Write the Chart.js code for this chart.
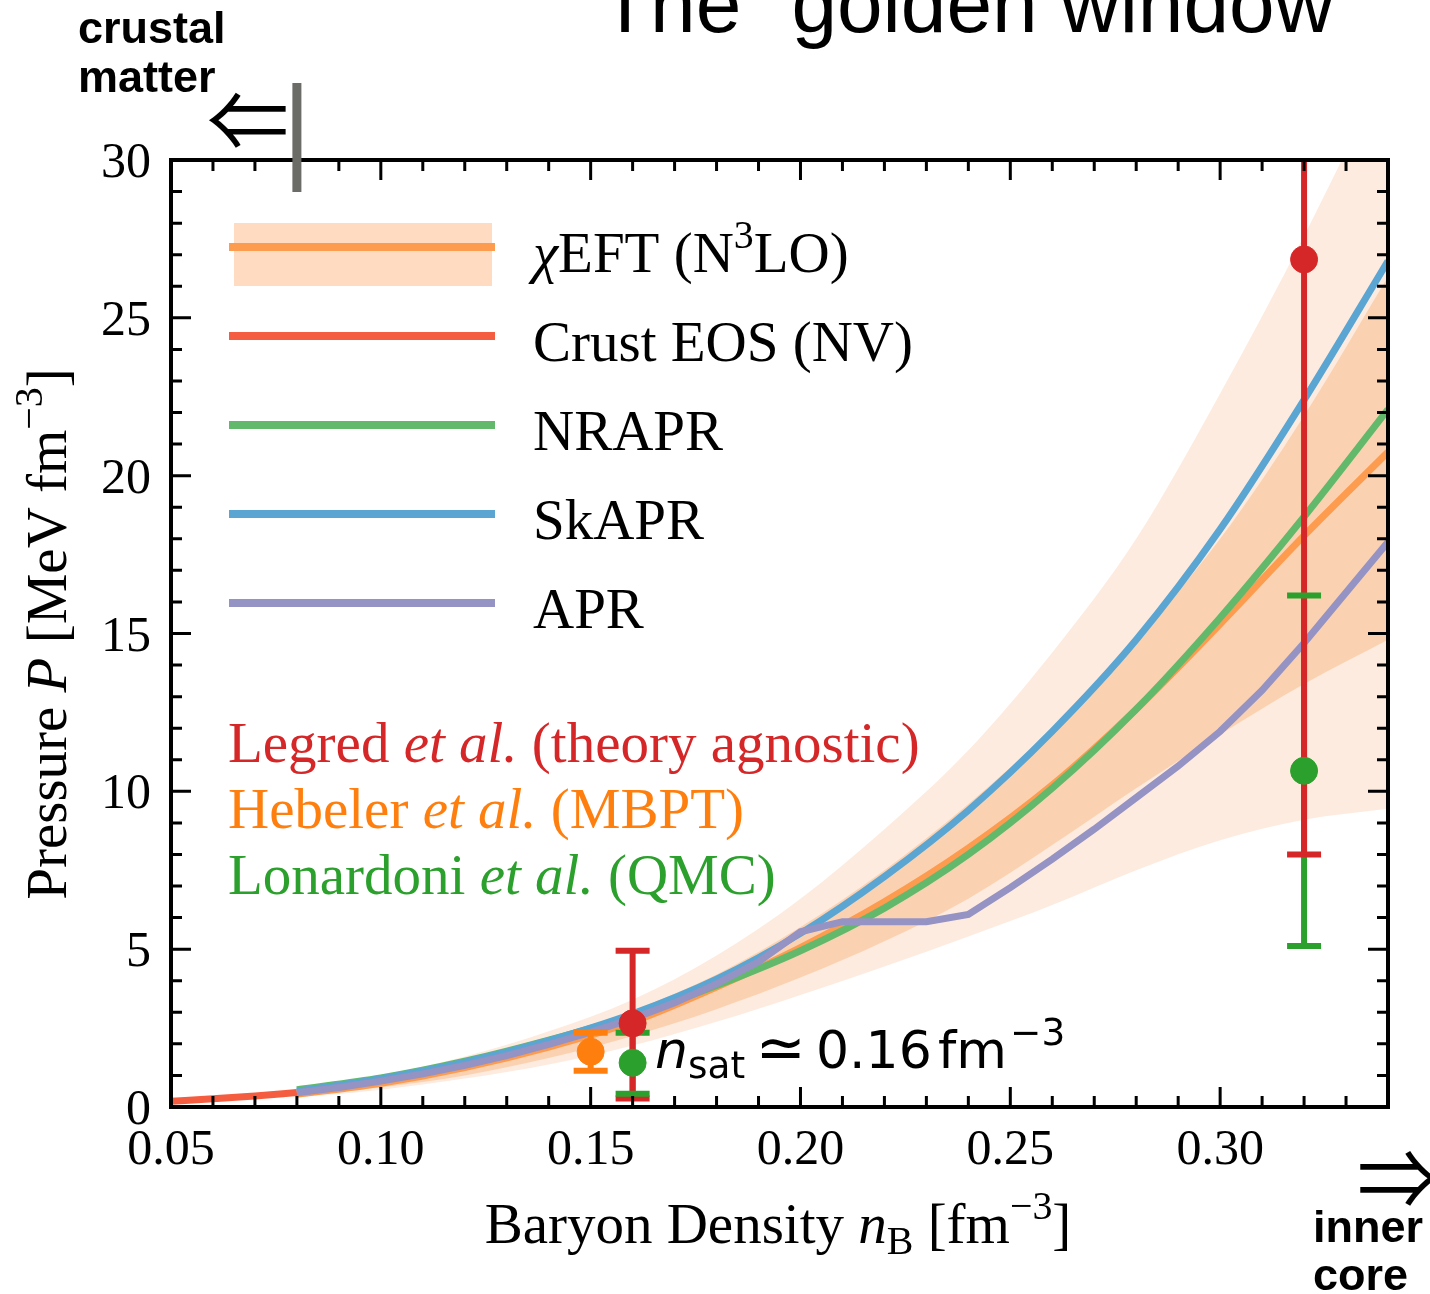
<!DOCTYPE html>
<html lang="en">
<head>
<meta charset="utf-8">
<title>Pressure of neutron-star matter: the golden window</title>
<script src="https://cdn.jsdelivr.net/npm/chart.js@4.4.1/dist/chart.umd.min.js"></script>
<style>
  html, body { margin: 0; padding: 0; background: #ffffff; }
  canvas { display: block; }
</style>
</head>
<body>
<canvas id="eos" width="1430" height="1294"></canvas>
<script>
// ---------------- data (baryon density in fm^-3, pressure in MeV fm^-3) ----------------
const densityGrid      = [0.08, 0.10, 0.12, 0.14, 0.16, 0.18, 0.20, 0.22, 0.24, 0.26, 0.28, 0.30, 0.32, 0.34];
const chiEftPressure   = [0.40, 0.75, 1.25, 1.90, 2.70, 3.80, 5.05, 6.50, 8.20, 10.20, 12.60, 15.30, 18.10, 20.75];
const chiEftInnerLow   = [0.35, 0.62, 1.00, 1.55, 2.25, 3.10, 4.10, 5.25, 6.60, 8.30, 10.10, 11.80, 13.40, 14.80];
const chiEftInnerHigh  = [0.50, 0.90, 1.45, 2.15, 3.05, 4.20, 5.70, 7.50, 9.60, 12.00, 14.80, 18.00, 21.90, 26.30];
const chiEftOuterLow   = [0.30, 0.55, 0.90, 1.35, 1.95, 2.70, 3.55, 4.45, 5.40, 6.40, 7.50, 8.45, 9.10, 9.45];
const chiEftOuterHigh  = [0.55, 1.00, 1.60, 2.40, 3.40, 4.80, 6.60, 8.80, 11.30, 14.40, 18.00, 22.60, 27.60, 33.00];
const nraprPressure    = [0.55, 0.92, 1.45, 2.12, 2.90, 3.85, 4.95, 6.30, 8.00, 10.10, 12.60, 15.50, 18.70, 22.10];
const skaprPressure    = [0.50, 0.90, 1.42, 2.10, 2.95, 4.05, 5.50, 7.30, 9.40, 11.90, 14.80, 18.30, 22.40, 26.80];

const aprDensity  = [0.08, 0.09, 0.10, 0.11, 0.12, 0.13, 0.14, 0.15, 0.16, 0.17, 0.18, 0.19, 0.20, 0.21,
                     0.22, 0.23, 0.24, 0.25, 0.26, 0.27, 0.28, 0.29, 0.30, 0.31, 0.32, 0.33, 0.34];
const aprPressure = [0.45, 0.62, 0.82, 1.05, 1.32, 1.63, 1.98, 2.37, 2.80, 3.30, 3.90, 4.60, 5.55, 5.87,
                     5.87, 5.87, 6.10, 6.95, 7.85, 8.80, 9.80, 10.80, 11.90, 13.20, 14.70, 16.30, 17.90];

const crustDensity  = [0.05, 0.06, 0.07, 0.08];
const crustPressure = [0.18, 0.26, 0.35, 0.46];

// error-bar constraints: central value with lower / upper limits
const legredDensity     = [0.16, 0.32];
const legredPressure    = [2.65, 26.85];
const legredLow         = [0.27, 8.00];
const legredHigh        = [4.95, 34.00];

const hebelerDensity    = [0.15];
const hebelerPressure   = [1.75];
const hebelerLow        = [1.15];
const hebelerHigh       = [2.35];

const lonardoniDensity  = [0.16, 0.32];
const lonardoniPressure = [1.40, 10.65];
const lonardoniLow      = [0.42, 5.10];
const lonardoniHigh     = [2.35, 16.20];

const crustCoreTransition = 0.08;   // marked above the frame

// axis ticks
const xMajorTicks = [0.05, 0.10, 0.15, 0.20, 0.25, 0.30];
const xTickLabels = ['0.05', '0.10', '0.15', '0.20', '0.25', '0.30'];
const yMajorTicks = [0, 5, 10, 15, 20, 25, 30];
const yTickLabels = ['0', '5', '10', '15', '20', '25', '30'];

// ---------------- styling ----------------
const SERIF = '"Liberation Serif", "Times New Roman", serif';
const SANS  = '"Liberation Sans", Arial, sans-serif';
const MATHSANS = '"DejaVu Sans", sans-serif';
const ARROWS = '"Noto Sans CJK JP", "DejaVu Sans", sans-serif';

const colors = {
  band:      '#feebdf',
  bandInner: '#fbd2b1',
  bandKey:   '#fedbc1',
  chiEft:    '#fd9b4f',
  crust:     '#f55d40',
  nrapr:     '#63b96b',
  skapr:     '#5ba5d3',
  apr:       '#9592c4',
  legred:    '#d62728',
  hebeler:   '#ff7f0e',
  lonardoni: '#2ca02c'
};

const xy = (xs, ys) => xs.map((x, i) => ({ x, y: ys[i] }));

function curve(label, xs, ys, color, order, extra) {
  return Object.assign({
    label, data: xy(xs, ys), borderColor: color, borderWidth: 7,
    pointRadius: 0, fill: false, order, cubicInterpolationMode: 'monotone'
  }, extra || {});
}

function band(label, xs, ys, color, order, fill) {
  return {
    label, data: xy(xs, ys), borderWidth: 0, borderColor: 'rgba(0,0,0,0)',
    backgroundColor: color, pointRadius: 0, fill, order, cubicInterpolationMode: 'monotone'
  };
}

function errorBars(name, xs, mid, lo, hi, color, stemOrder, capOrder, markOrder) {
  const stem = [];
  xs.forEach((x, i) => { stem.push({ x, y: lo[i] }, { x, y: hi[i] }, { x, y: null }); });
  const caps = [];
  xs.forEach((x, i) => { caps.push({ x, y: lo[i] }, { x, y: hi[i] }); });
  return [
    { label: name + ' range', data: stem, borderColor: color, borderWidth: 6, pointRadius: 0,
      spanGaps: false, fill: false, order: stemOrder },
    { label: name + ' limits', data: caps, showLine: false, pointStyle: 'line', pointRadius: 17,
      pointBorderWidth: 6, pointBorderColor: color, borderColor: color, order: capOrder },
    { label: name, data: xy(xs, mid), showLine: false, pointStyle: 'circle', pointRadius: 13.5,
      pointBackgroundColor: color, pointBorderColor: color, pointBorderWidth: 1, order: markOrder }
  ];
}

// ---------------- text helpers ----------------
function richText(ctx, parts, x, y, opts) {
  const size = opts.size, family = opts.family || SERIF, color = opts.color || '#000';
  const align = opts.align || 'left';
  const laid = parts.map(p => {
    const s = size * (p.scale || 1);
    const font = (p.italic ? 'italic ' : '') + (p.bold ? 'bold ' : '') + s + 'px ' + (p.family || family);
    ctx.font = font;
    return { p, font, w: ctx.measureText(p.text).width, pre: (p.pre || 0) * size, dy: (p.dy || 0) * size };
  });
  const total = laid.reduce((t, l) => t + l.pre + l.w, 0);
  let cx = align === 'center' ? x - total / 2 : align === 'right' ? x - total : x;
  ctx.textAlign = 'left';
  ctx.textBaseline = 'alphabetic';
  for (const l of laid) {
    cx += l.pre;
    ctx.font = l.font;
    ctx.fillStyle = l.p.color || color;
    ctx.fillText(l.p.text, cx, y + l.dy);
    cx += l.w;
  }
  return total;
}

// glyph whose inked box starts at `left`, is `width` wide and is centred on cy
function glyphAt(ctx, text, left, cy, width, family) {
  ctx.textAlign = 'left';
  ctx.textBaseline = 'alphabetic';
  ctx.font = '100px ' + family;
  let m = ctx.measureText(text);
  const inkW = m.actualBoundingBoxRight + m.actualBoundingBoxLeft;
  const size = 100 * width / inkW;
  ctx.font = size + 'px ' + family;
  m = ctx.measureText(text);
  const base = cy + (m.actualBoundingBoxAscent - m.actualBoundingBoxDescent) / 2;
  ctx.fillStyle = '#000';
  ctx.fillText(text, left + m.actualBoundingBoxLeft, base);
}

const legendKeys = [
  { color: colors.chiEft, patch: colors.bandKey,
    parts: [{ text: 'χ', italic: true }, { text: 'EFT (N' }, { text: '3', scale: 0.7, dy: -0.42 }, { text: 'LO)' }] },
  { color: colors.crust, parts: [{ text: 'Crust EOS (NV)' }] },
  { color: colors.nrapr, parts: [{ text: 'NRAPR' }] },
  { color: colors.skapr, parts: [{ text: 'SkAPR' }] },
  { color: colors.apr,   parts: [{ text: 'APR' }] }
];

const sourceNotes = [
  { color: colors.legred,    parts: [{ text: 'Legred ' }, { text: 'et al.', italic: true }, { text: ' (theory agnostic)' }] },
  { color: colors.hebeler,   parts: [{ text: 'Hebeler ' }, { text: 'et al.', italic: true }, { text: ' (MBPT)' }] },
  { color: colors.lonardoni, parts: [{ text: 'Lonardoni ' }, { text: 'et al.', italic: true }, { text: ' (QMC)' }] }
];

// ---------------- plugins: legend, notes, frame, ticks, titles ----------------
const annotations = {
  id: 'annotations',
  afterDatasetsDraw(chart) {
    const { ctx } = chart;
    ctx.save();
    // legend
    const rowY = [247, 336, 425, 514, 603];
    legendKeys.forEach((k, i) => {
      if (k.patch) {
        ctx.fillStyle = k.patch;
        ctx.fillRect(234, 223, 258, 63);
      }
      ctx.strokeStyle = k.color;
      ctx.lineWidth = 8;
      ctx.lineCap = 'butt';
      ctx.beginPath();
      ctx.moveTo(229, rowY[i]);
      ctx.lineTo(495, rowY[i]);
      ctx.stroke();
      richText(ctx, k.parts, 533, rowY[i] + 25, { size: 57 });
    });
    // coloured source notes
    const noteY = [762, 828, 894];
    sourceNotes.forEach((n, i) => richText(ctx, n.parts, 228, noteY[i], { size: 57, color: n.color }));
    // saturation density note
    richText(ctx, [
      { text: 'n', italic: true },
      { text: 'sat', scale: 0.72, dy: 0.2 },
      { text: '≃', pre: 0.2, scale: 1.15 },
      { text: '0.16', pre: 0.2 },
      { text: 'fm', pre: 0.12 },
      { text: '−3', scale: 0.72, dy: -0.45, pre: 0.06 }
    ], 655, 1068, { size: 52, family: MATHSANS });
    ctx.restore();
  },
  afterDraw(chart) {
    const { ctx, chartArea: a, scales: { x, y } } = chart;
    ctx.save();
    ctx.strokeStyle = '#000';
    ctx.lineCap = 'butt';

    // ticks on all four sides, pointing inward
    ctx.lineWidth = 3;
    ctx.beginPath();
    for (let k = 6; k <= 33; k++) {
      const v = k / 100;
      const major = k % 5 === 0;
      const len = major ? 20 : 11;
      const px = x.getPixelForValue(v);
      ctx.moveTo(px, a.bottom); ctx.lineTo(px, a.bottom - len);
      ctx.moveTo(px, a.top);    ctx.lineTo(px, a.top + len);
    }
    for (let v = 1; v <= 29; v++) {
      const major = v % 5 === 0;
      const len = major ? 20 : 11;
      const py = y.getPixelForValue(v);
      ctx.moveTo(a.left, py);  ctx.lineTo(a.left + len, py);
      ctx.moveTo(a.right, py); ctx.lineTo(a.right - len, py);
    }
    ctx.stroke();

    // frame
    ctx.lineWidth = 4;
    ctx.strokeRect(a.left, a.top, a.right - a.left, a.bottom - a.top);

    // tick labels
    ctx.fillStyle = '#000';
    ctx.font = '50px ' + SERIF;
    ctx.textBaseline = 'alphabetic';
    ctx.textAlign = 'center';
    xMajorTicks.forEach((v, i) => ctx.fillText(xTickLabels[i], x.getPixelForValue(v), a.bottom + 57));
    ctx.textAlign = 'right';
    yMajorTicks.forEach((v, i) => ctx.fillText(yTickLabels[i], 151, y.getPixelForValue(v) + 17));

    // axis titles
    richText(ctx, [
      { text: 'Baryon Density ' }, { text: 'n', italic: true }, { text: 'B', scale: 0.7, dy: 0.2 },
      { text: ' [fm' }, { text: '−3', scale: 0.7, dy: -0.42 }, { text: ']' }
    ], 778, 1243, { size: 57, align: 'center' });
    ctx.save();
    ctx.translate(66, 634);
    ctx.rotate(-Math.PI / 2);
    richText(ctx, [
      { text: 'Pressure ' }, { text: 'P', italic: true }, { text: ' [MeV fm' },
      { text: '−3', scale: 0.7, dy: -0.42 }, { text: ']' }
    ], 0, 0, { size: 57, align: 'center' });
    ctx.restore();

    // crust–core transition marker above the frame
    const tx = x.getPixelForValue(crustCoreTransition);
    ctx.fillStyle = '#6b6b68';
    ctx.fillRect(tx - 4.5, 83, 9, 109);

    // region labels and arrows
    ctx.fillStyle = '#000';
    ctx.textAlign = 'left';
    ctx.font = 'bold 45px ' + SANS;
    ctx.fillText('crustal', 78, 43);
    ctx.fillText('matter', 78, 92);
    ctx.fillText('inner', 1313, 1242);
    ctx.fillText('core', 1313, 1290);
    glyphAt(ctx, '⇐', 208, 120, 77, ARROWS);
    glyphAt(ctx, '⇒', 1360, 1178, 77, ARROWS);

    // heading, cut by the top edge
    ctx.textAlign = 'left';
    ctx.font = '82px ' + SANS;
    ctx.fillText('The “golden window”', 600, 32);
    ctx.restore();
  }
};

// ---------------- chart ----------------
const datasets = [
  band('χEFT outer low',  densityGrid, chiEftOuterLow,  colors.band, 40, false),
  band('χEFT outer high', densityGrid, chiEftOuterHigh, colors.band, 40, '-1'),
  band('χEFT inner low',  densityGrid, chiEftInnerLow,  colors.bandInner, 39, false),
  band('χEFT inner high', densityGrid, chiEftInnerHigh, colors.bandInner, 39, '-1'),
  curve('χEFT (N3LO)', densityGrid, chiEftPressure, colors.chiEft, 30),
  curve('Crust EOS (NV)', crustDensity, crustPressure, colors.crust, 29),
  curve('NRAPR', densityGrid, nraprPressure, colors.nrapr, 28),
  curve('SkAPR', densityGrid, skaprPressure, colors.skapr, 27),
  curve('APR', aprDensity, aprPressure, colors.apr, 26, { cubicInterpolationMode: 'default', tension: 0 }),
  ...errorBars('Lonardoni et al. (QMC)', lonardoniDensity, lonardoniPressure, lonardoniLow, lonardoniHigh,
               colors.lonardoni, 20, 12, 3),
  ...errorBars('Legred et al. (theory agnostic)', legredDensity, legredPressure, legredLow, legredHigh,
               colors.legred, 19, 13, 1),
  ...errorBars('Hebeler et al. (MBPT)', hebelerDensity, hebelerPressure, hebelerLow, hebelerHigh,
               colors.hebeler, 19, 11, 2)
];

new Chart(document.getElementById('eos'), {
  type: 'line',
  data: { datasets },
  options: {
    responsive: false,
    animation: false,
    devicePixelRatio: 1,
    events: [],
    layout: { padding: { left: 171, right: 42, top: 160, bottom: 187 } },
    scales: {
      x: { type: 'linear', min: 0.05, max: 0.34, display: false },
      y: { type: 'linear', min: 0, max: 30, display: false }
    },
    plugins: {
      legend: { display: false },
      tooltip: { enabled: false },
      title: { display: false }
    }
  },
  plugins: [annotations]
});
</script>
</body>
</html>
